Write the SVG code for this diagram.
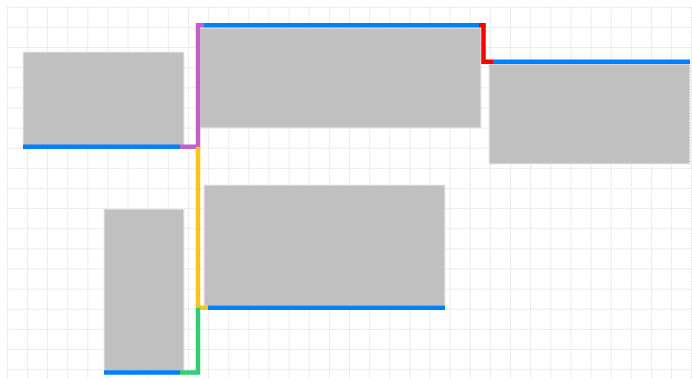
<svg xmlns="http://www.w3.org/2000/svg" width="692" height="379" viewBox="0 0 692 379">
<style>
.grid{stroke:#e3e3e3;stroke-width:1;stroke-dasharray:2 1;fill:none}
.box{fill:#c0c0c0;stroke:#ececec;stroke-width:1}
.c{fill:none;stroke-width:4.5;stroke-linejoin:miter;stroke-linecap:butt}
.blue{stroke:#0080ff}
.purple{stroke:#c060c8}
.yellow{stroke:#f8c31a}
.green{stroke:#33cc77}
.red{stroke:#ff0000}
</style>
<rect width="692" height="379" fill="#ffffff"/>
<g id="grid">
<path class="grid" d="M7.3 7.3V379M27.43 7.3V379M47.56 7.3V379M67.69 7.3V379M87.82 7.3V379M107.95 7.3V379M128.08 7.3V379M148.21 7.3V379M168.34 7.3V379M188.47 7.3V379M208.6 7.3V379M228.73 7.3V379M248.86 7.3V379M268.99 7.3V379M289.12 7.3V379M309.25 7.3V379M329.38 7.3V379M349.51 7.3V379M369.64 7.3V379M389.77 7.3V379M409.9 7.3V379M430.03 7.3V379M450.16 7.3V379M470.29 7.3V379M490.42 7.3V379M510.55 7.3V379M530.68 7.3V379M550.81 7.3V379M570.94 7.3V379M591.07 7.3V379M611.2 7.3V379M631.33 7.3V379M651.46 7.3V379M671.59 7.3V379M691.5 7.3V379"/>
<path class="grid" d="M7.3 7.3H692M7.3 27.43H692M7.3 47.56H692M7.3 67.69H692M7.3 87.82H692M7.3 107.95H692M7.3 128.08H692M7.3 148.21H692M7.3 168.34H692M7.3 188.47H692M7.3 208.6H692M7.3 228.73H692M7.3 248.86H692M7.3 268.99H692M7.3 289.12H692M7.3 309.25H692M7.3 329.38H692M7.3 349.51H692M7.3 369.64H692"/>
</g>
<g id="node-a">
<rect class="box" x="23" y="52" width="161" height="95"/>
<path class="c blue" d="M23 146.8H180"/>
</g>
<g id="node-b">
<rect class="box" x="200" y="28" width="281" height="100"/>
<path class="c blue" d="M204 25.3H479"/>
</g>
<g id="node-c">
<rect class="box" x="489" y="64" width="201" height="100"/>
<path class="c blue" d="M493 61.7H690"/>
</g>
<g id="node-d">
<rect class="box" x="204" y="185" width="241" height="121"/>
<path class="c blue" d="M208 307.8H445"/>
</g>
<g id="node-e">
<rect class="box" x="104" y="209" width="80" height="162"/>
<path class="c blue" d="M104 372.4H180"/>
</g>
<g id="connectors">
<path class="c purple" d="M180 146.8H198V25.3H204"/>
<path class="c yellow" d="M198 146.8V307.8H208"/>
<path class="c green" d="M198 307.8V372.4H180"/>
<path class="c red" d="M479 25.3H483.5V61.7H493"/>
</g>
</svg>
